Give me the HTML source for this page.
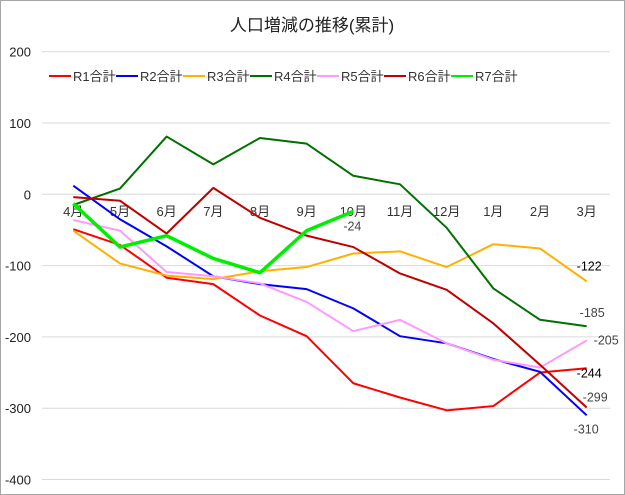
<!DOCTYPE html>
<html><head><meta charset="utf-8">
<style>
body{margin:0;background:#fff;}
svg{display:block;font-family:"Liberation Sans","Noto Sans CJK JP",sans-serif;}
</style></head>
<body>
<svg width="625" height="495">
<rect x="0.5" y="0.5" width="624" height="494" fill="#fff" stroke="#a6a6a6"/>
<text x="312" y="31" text-anchor="middle" font-size="17" fill="#222">人口増減の推移(累計)</text>
<g id="grid"></g>
<g id="legend"></g>
<g id="series"></g>
<g id="labels"></g>
</svg>
<script>
const months=["4月","5月","6月","7月","8月","9月","10月","11月","12月","1月","2月","3月"];
const yTicks=[200,100,0,-100,-200,-300,-400];
const seriesNames=["R1合計","R2合計","R3合計","R4合計","R5合計","R6合計","R7合計"];
const seriesColors=["#ff0000","#0000ff","#ffb000","#007000","#ff99ff","#c00000","#00ee00"];
const r1=[-49,-71,-117,-126,-170,-199,-265,-285,-303,-297,-250,-244];
const r2=[12,-35,-73,-115,-126,-133,-160,-199,-209,-231,-249,-310];
const r3=[-51,-97,-114,-119,-108,-102,-83,-80,-102,-70,-76,-122];
const r4=[-15,8,81,42,79,71,26,14,-47,-132,-176,-185];
const r5=[-36,-51,-109,-115,-125,-151,-192,-176,-209,-232,-243,-205];
const r6=[-4,-9,-55,9,-33,-58,-74,-111,-134,-181,-239,-299];
const r7=[-13,-74,-58,-90,-110,-51,-24];
const allSeries=[r1,r2,r3,r4,r5,r6,r7];
const endLabels=[{s:0,t:"-244",dx:-10,dy:9,bold:true},{s:1,t:"-310",dx:-13,dy:18},{s:2,t:"-122",dx:-10,dy:-11,bold:true},{s:3,t:"-185",dx:-7,dy:-9},{s:4,t:"-205",dx:7,dy:4},{s:5,t:"-299",dx:-4,dy:-6},{s:6,t:"-24",dx:-10,dy:19}];
const NS="http://www.w3.org/2000/svg";
const x=i=>73.3+46.67*i;
const y=v=>194.3-v*0.713;
function mk(tag,attrs,parent){const e=document.createElementNS(NS,tag);for(const k in attrs)e.setAttribute(k,attrs[k]);document.getElementById(parent).appendChild(e);return e;}
yTicks.forEach(t=>{
  const l=mk("line",{x1:42,x2:610,y1:y(t),y2:y(t),stroke:"#d9d9d9","stroke-width":1},"grid");
  
  
  const tx=mk("text",{x:31,y:y(t)+5,"text-anchor":"end","font-size":13,fill:"#222"},"grid");
  tx.textContent=t;
  
  
});
months.forEach((m,i)=>{
  const tx=mk("text",{x:x(i),y:216,"text-anchor":"middle","font-size":13,fill:"#333"},"grid");
  tx.textContent=m;
  
  
});
seriesNames.forEach((n,i)=>{
  const lx=49+67*i;
  const l=mk("line",{x1:lx,x2:lx+22,y1:76,y2:76,stroke:seriesColors[i],"stroke-width":2},"legend");
  
  
  const tx=mk("text",{x:lx+24,y:81,"font-size":13,fill:"#333"},"legend");
  tx.textContent=n;
  
  
});
allSeries.forEach((d,s)=>{
  const p=mk("polyline",{points:d.map((v,i)=>x(i)+","+y(v)).join(" "),fill:"none",stroke:seriesColors[s],"stroke-width":s===6?3.5:2,"stroke-linejoin":"round"},"series");
  
  
});
endLabels.forEach(e=>{
  const d=allSeries[e.s];const i=d.length-1;
  const tx=mk("text",{x:x(i)+e.dx,y:y(d[i])+e.dy,"font-size":12.5,fill:e.bold?"#000":"#444","font-weight":"normal"},"labels");
  tx.textContent=e.t;
  
  
});
</script>
</body></html>
